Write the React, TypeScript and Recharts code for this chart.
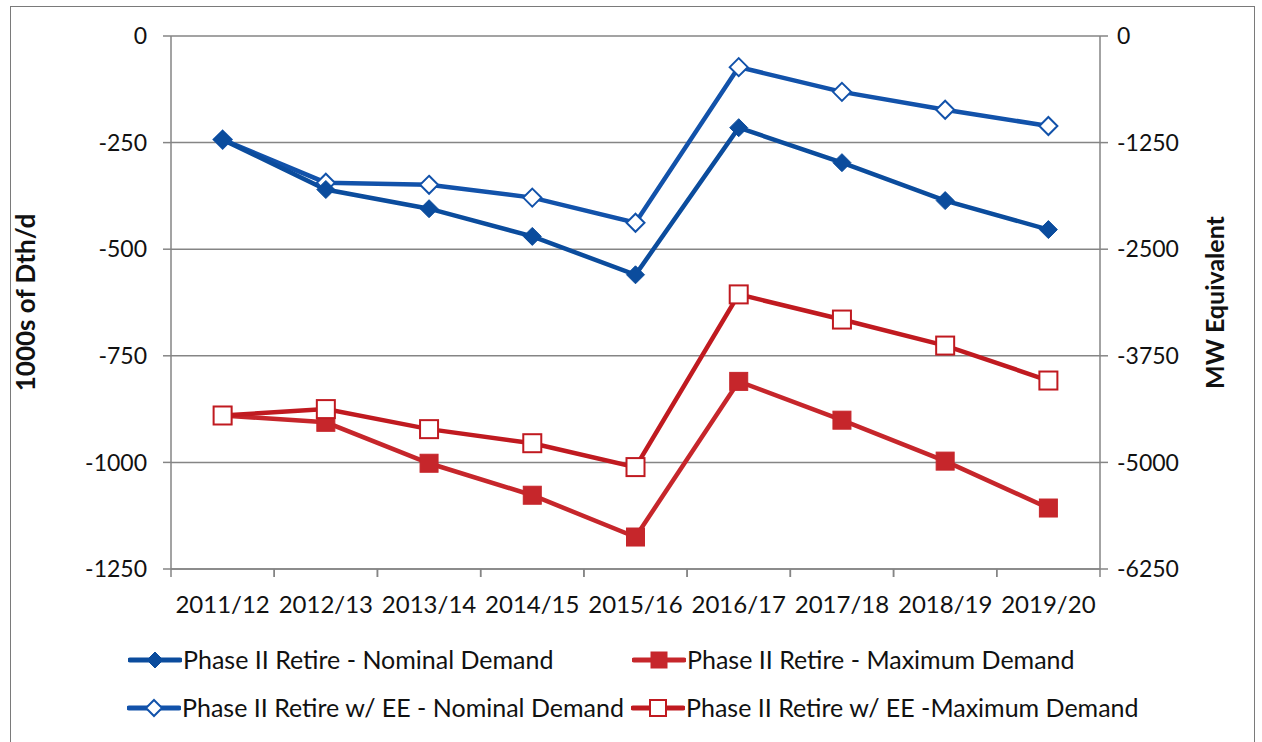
import React from 'react';
import { LineChart, Line, XAxis, YAxis, CartesianGrid, Legend } from 'recharts';

const categories = ['2011/12', '2012/13', '2013/14', '2014/15', '2015/16', '2016/17', '2017/18', '2018/19', '2019/20'];
const nominalDemand = [-243, -360, -405, -470, -560, -215, -297, -386, -454];
const maximumDemand = [-890, -906, -1002, -1077, -1175, -810, -901, -997, -1107];
const eeNominalDemand = [-243, -344, -349, -379, -438, -73, -131, -173, -211];
const eeMaximumDemand = [-890, -875, -922, -955, -1011, -606, -665, -726, -808];
const leftTicks = [0, -250, -500, -750, -1000, -1250];
const rightTicks = [0, -1250, -2500, -3750, -5000, -6250];

const seriesNames = [
  'Phase II Retire - Nominal Demand',
  'Phase II Retire - Maximum Demand',
  'Phase II Retire w/ EE - Nominal Demand',
  'Phase II Retire w/ EE -Maximum Demand',
];

const data = categories.map((c, i) => ({
  category: c,
  nominal: nominalDemand[i],
  maximum: maximumDemand[i],
  eeNominal: eeNominalDemand[i],
  eeMaximum: eeMaximumDemand[i],
}));

const BLUE = '#0b4c9d';
const BLUE2 = '#1252aa';
const RED = '#c6262b';
const RED2 = '#c01a20';
const FONT = 'Lato, "Open Sans", sans-serif';
const GRID = '#858585';

const Diamond = ({ cx, cy, filled, color, r = 9 }: any) => {
  if (cx == null || cy == null) return null;
  const pts = `${cx},${cy - r} ${cx + r},${cy} ${cx},${cy + r} ${cx - r},${cy}`;
  return <polygon points={pts} fill={filled ? color : '#fff'} stroke={color} strokeWidth={filled ? 1 : 2} />;
};

const Square = ({ cx, cy, filled, color, r = 9 }: any) => {
  if (cx == null || cy == null) return null;
  return (
    <rect x={cx - r} y={cy - r} width={2 * r} height={2 * r} fill={filled ? color : '#fff'} stroke={color} strokeWidth={filled ? 1 : 2} />
  );
};

const XTick = (props: any) => {
  const { x, y, payload } = props;
  const off = payload.offset ?? 0;
  return (
    <g>
      <line x1={x - off} x2={x - off} y1={y} y2={y + 8} stroke={GRID} strokeWidth={1.5} />
      <line x1={x + off} x2={x + off} y1={y} y2={y + 8} stroke={GRID} strokeWidth={1.5} />
      <text x={x} y={y + 44} textAnchor="middle" fontSize={24} fontFamily={FONT} fill="#111">
        {payload.value}
      </text>
    </g>
  );
};

const LegendMark = ({ kind, filled, color }: any) => (
  <svg width={54} height={24} style={{ position: 'absolute', left: 0, top: 0 }}>
    <line x1={2} x2={52} y1={12} y2={12} stroke={color} strokeWidth={5} strokeLinecap="round" />
    {kind === 'diamond' ? (
      <Diamond cx={27} cy={12} r={8} filled={filled} color={color} />
    ) : (
      <Square cx={27} cy={12} r={8} filled={filled} color={color} />
    )}
  </svg>
);

const legendItems = [
  { name: seriesNames[0], kind: 'diamond', filled: true, color: BLUE, left: 128, top: 29 },
  { name: seriesNames[1], kind: 'square', filled: true, color: RED, left: 632, top: 29 },
  { name: seriesNames[2], kind: 'diamond', filled: false, color: BLUE2, left: 127, top: 77 },
  { name: seriesNames[3], kind: 'square', filled: false, color: RED2, left: 631, top: 77 },
];

const CustomLegend = () => (
  <div style={{ position: 'relative', width: 1262, height: 100 }}>
    {legendItems.map((it) => (
      <div key={it.name} style={{ position: 'absolute', left: it.left, top: it.top, height: 24, whiteSpace: 'nowrap' }}>
        <LegendMark kind={it.kind} filled={it.filled} color={it.color} />
        <span
          style={{
            position: 'absolute',
            left: 55,
            top: -4,
            fontFamily: FONT,
            fontSize: 25,
            color: '#111',
            lineHeight: '30px',
          }}
        >
          {it.name}
        </span>
      </div>
    ))}
  </div>
);

export default function App() {
  return (
    <div style={{ position: 'absolute', left: 0, top: 0, width: 1262, height: 742, background: '#fff' }}>
      <div
        style={{
          position: 'absolute',
          left: 10,
          top: 6,
          width: 1245,
          height: 740,
          border: '1.5px solid #7a7a7a',
          boxSizing: 'border-box',
        }}
      />
      <div style={{ position: 'absolute', left: 0, top: 0 }}>
        <LineChart width={1262} height={742} data={data} margin={{ top: 36, right: 0, left: 0, bottom: 23 }}>
          <CartesianGrid yAxisId="left" vertical={false} stroke={GRID} strokeWidth={1.5} />
          <XAxis
            dataKey="category"
            scale="band"
            height={50}
            axisLine={{ stroke: GRID, strokeWidth: 1.5 }}
            tickLine={false}
            tickSize={0}
            tickMargin={0}
            tick={<XTick />}
            interval={0}
          />
          <YAxis
            yAxisId="left"
            width={171}
            domain={[-1250, 0]}
            ticks={leftTicks}
            allowDataOverflow
            axisLine={{ stroke: GRID, strokeWidth: 1.5 }}
            tickLine={{ stroke: GRID, strokeWidth: 1.5 }}
            tickSize={8}
            tickMargin={16}
            tick={{ fontSize: 23, fontFamily: FONT, fill: '#111' }}
            label={{
              value: '1000s of Dth/d',
              angle: -90,
              position: 'insideLeft',
              offset: 26,
              style: { fontSize: 26, fontFamily: FONT, fontWeight: 'bold', fill: '#111', textAnchor: 'middle' },
            }}
          />
          <YAxis
            yAxisId="right"
            orientation="right"
            width={162}
            domain={[-6250, 0]}
            ticks={rightTicks}
            allowDataOverflow
            axisLine={{ stroke: GRID, strokeWidth: 1.5 }}
            tickLine={{ stroke: GRID, strokeWidth: 1.5 }}
            tickSize={8}
            tickMargin={9}
            tick={{ fontSize: 23, fontFamily: FONT, fill: '#111' }}
            label={{
              value: 'MW Equivalent',
              angle: -90,
              position: 'insideRight',
              offset: 47,
              style: { fontSize: 25, fontFamily: FONT, fontWeight: 'bold', fill: '#111', textAnchor: 'middle' },
            }}
          />
          <Legend verticalAlign="bottom" align="left" content={<CustomLegend />} />
          <Line
            yAxisId="left"
            dataKey="eeNominal"
            name={seriesNames[2]}
            stroke={BLUE2}
            strokeWidth={4.5}
            isAnimationActive={false}
            dot={(p: any) => <Diamond key={`en${p.index}`} cx={p.cx} cy={p.cy} filled={false} color={BLUE2} />}
          />
          <Line
            yAxisId="left"
            dataKey="nominal"
            name={seriesNames[0]}
            stroke={BLUE}
            strokeWidth={4.5}
            isAnimationActive={false}
            dot={(p: any) => <Diamond key={`n${p.index}`} cx={p.cx} cy={p.cy} filled color={BLUE} />}
          />
          <Line
            yAxisId="left"
            dataKey="maximum"
            name={seriesNames[1]}
            stroke={RED}
            strokeWidth={4.5}
            isAnimationActive={false}
            dot={(p: any) => <Square key={`m${p.index}`} cx={p.cx} cy={p.cy} filled color={RED} />}
          />
          <Line
            yAxisId="left"
            dataKey="eeMaximum"
            name={seriesNames[3]}
            stroke={RED2}
            strokeWidth={4.5}
            isAnimationActive={false}
            dot={(p: any) => <Square key={`em${p.index}`} cx={p.cx} cy={p.cy} filled={false} color={RED2} />}
          />
        </LineChart>
      </div>
    </div>
  );
}
